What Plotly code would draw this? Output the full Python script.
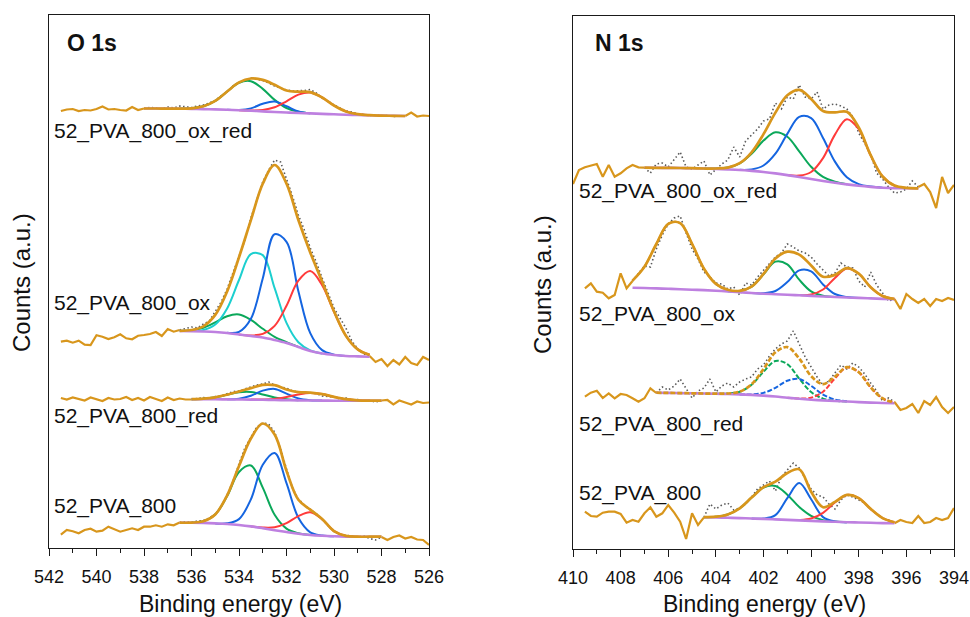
import numpy as np
import plotly.graph_objects as go

FONT = "Liberation Sans, Arial, Helvetica, sans-serif"

# ---------------- energy grids (0.25 eV measurement step) ----------------
O_E = np.round(np.arange(541.5, 525.99, -0.25), 2)   # O 1s: 541.5 -> 526.0
N_E = np.round(np.arange(410.0, 393.99, -0.25), 2)   # N 1s: 410.0 -> 394.0

# ---------------- O 1s raw spectra (stacked, a.u.) ----------------
O_raw_oxred = [437, 438.5, 439, 437, 438, 437.5, 439, 441.5, 438.5, 439, 438, 437.5, 441, 438, 439.5,
               440.5, 440, 439, 441, 440, 442, 441, 440.5, 442, 443, 445, 447.5, 452, 456, 462, 465,
               468, 470, 469, 467.5, 465, 462, 460, 458, 457, 457, 457.5, 458.5, 455, 450, 447, 443,
               440, 437, 436, 434, 433.5, 432.5, 433, 432, 432.5, 431.5, 432,
               432, 435.5, 431.5, 432.5, 432]
O_raw_ox = [206.3, 207.3, 205.3, 207.3, 203.3, 203, 212.7, 211.3, 209, 210.7, 213.7, 209.7, 208.7, 212.3,
            213, 214, 216, 212, 219, 216.3,
            218, 219.5, 221, 220, 224, 227, 236, 246, 259, 275, 292, 308, 330, 348, 366, 378, 388, 386,
            370, 352, 333, 318, 300, 286, 270, 255, 240, 230, 220, 207, 199, 194, 192,
            186, 189, 182, 188, 183.5, 191, 185, 183, 191, 188]
O_raw_red = [150, 148.5, 150.5, 149, 147.5, 150.5, 148.5, 147, 150, 148.5, 149, 151, 148, 150, 147.5,
             151, 149, 147, 150.5, 148, 149.5, 148.5,
             148.5, 149.5, 150.5, 149, 151.5, 152, 154, 156.5, 157, 159, 161, 163, 164, 166, 163, 161,
             160, 157, 156, 155.5, 155, 154.5, 152, 151.5, 151, 149, 150, 148, 148.5, 146.5, 147.5,
             146, 147.5,
             148, 143.5, 147.5, 145.5, 143.5, 146.5, 145, 145.5]
O_raw_800 = [13.3, 18, 16.7, 14.7, 18, 19.3, 16.3, 17.3, 21.3, 19, 16.3, 18, 19.7, 18, 21.3, 21.3, 22.7,
             21.3, 23.7, 22.7,
             25.5, 26, 25.5, 27, 27.5, 30, 34, 41, 53, 67, 84, 100, 111, 121, 125, 124, 116, 99, 79, 60,
             49, 43, 38.5, 34.5, 28.5, 22.5, 16.5, 13.5, 12.5, 12, 11, 12, 9.5, 8, 11,
             8, 11, 12.5, 9.5, 11, 8.5, 8, 3]

# ---------------- O 1s fits: (start, end) of fit window, background, components ----------------
O_fit_oxred = (538.0, 527.0)
O_bg_oxred = [439.5, 439.5, 439.4, 439.3, 439.1, 438.9, 438.6, 438.2, 437.7, 437.2, 436.6, 436, 435.5,
              435, 434.6, 434.1, 433.7, 433.3, 433, 432.7, 432.4, 432.2, 432]
O_oxred_green = [0, 0, 0, 0.1, 0.6, 2.8, 8.5, 18.3, 27.6, 29.6, 22.5, 12.1, 4.5, 1.3, 0.2, 0, 0, 0, 0, 0, 0, 0, 0]
O_oxred_blue = [0, 0, 0, 0, 0, 0, 0, 0, 0.3, 2.4, 7.6, 10.4, 6.3, 1.6, 0.2, 0, 0, 0, 0, 0, 0, 0, 0]
O_oxred_red = [0, 0, 0, 0, 0, 0, 0, 0, 0, 0.3, 1.4, 4.7, 11.2, 18.4, 20.9, 16.4, 8.8, 3.3, 0.8, 0.1, 0, 0, 0]

O_fit_ox = (536.5, 528.5)
O_bg_ox = [217, 216.8, 216.5, 216, 215, 213.5, 212, 210.5, 208, 205, 201, 197, 194.5, 193, 192, 191.6, 191.3]
O_ox_green = [0.2, 1.0, 3.7, 9.6, 16.8, 20.0, 16.1, 8.7, 3.2, 0.8, 0.1, 0, 0, 0, 0, 0, 0]
O_ox_cyan = [0, 0.2, 1.5, 7.5, 24.6, 54.5, 81.9, 82.4, 51.9, 20.1, 4.8, 0.7, 0.1, 0, 0, 0, 0]
O_ox_blue = [0, 0, 0, 0, 0.2, 2.6, 17.2, 59.0, 105.8, 101.2, 55.8, 17.9, 3.4, 0.4, 0, 0, 0]
O_ox_red = [0, 0, 0, 0, 0, 0.1, 0.6, 3.6, 14.1, 37.2, 66.3, 80.0, 68.4, 43.3, 20.3, 7.0, 1.8]

O_fit_red = (536.0, 528.0)
O_bg_red = [148.7, 148.7, 148.7, 148.6, 148.5, 148.4, 148.2, 148, 147.8, 147.6, 147.5, 147.4, 147.3,
            147.3, 147.3, 147.3, 147.3]
O_red_green = [0.1, 0.6, 2.0, 4.6, 7.2, 7.6, 5.4, 2.6, 0.9, 0.2, 0, 0, 0, 0, 0, 0, 0]
O_red_blue = [0, 0, 0, 0.1, 0.8, 3.9, 9.2, 11.1, 6.6, 2.0, 0.3, 0, 0, 0, 0, 0, 0]
O_red_red = [0, 0, 0, 0, 0, 0, 0.3, 1.1, 3.2, 6.0, 7.6, 6.5, 3.8, 1.5, 0.4, 0.1, 0]

O_fit_800 = (536.5, 528.0)
O_bg_800 = [25.3, 25.2, 25, 24.6, 24, 23, 21.6, 19.8, 17.8, 16, 14.3, 13, 12.2, 11.7, 11.4, 11.3, 11.3, 11.3]
O_800_green = [0, 0.2, 1.7, 8.9, 27.9, 53.0, 60.9, 40.6, 15.4, 3.4, 0.4, 0, 0, 0, 0, 0, 0, 0]
O_800_blue = [0, 0, 0, 0, 0.7, 5.9, 27.0, 63.4, 77.2, 48.8, 15.9, 2.7, 0.3, 0, 0, 0, 0, 0]
O_800_red = [0, 0, 0, 0, 0, 0, 0, 0.7, 3.0, 8.9, 17.6, 22.7, 16.5, 5.2, 0.7, 0, 0, 0]

# ---------------- N 1s raw spectra ----------------
N_raw_oxred = [365, 379, 381.7, 383, 385, 372.3, 384, 372.3, 375.7, 380.7, 384, 381.7,
               381.3, 376, 385, 386, 382, 390, 397, 382, 380, 384, 388, 374, 380, 385, 389, 402, 392,
               408, 414, 420, 428, 430, 446, 440, 452, 450, 464, 452, 450, 457, 440, 444, 445, 443,
               440, 432, 416, 405, 395, 376, 370, 362, 356, 357, 360, 368, 362,
               365, 357, 341, 372, 356, 364]
N_raw_ox = [None, None, 260.7, 265.7, 257.3, 256.3, 250.7, 254, 275.7, 260.7,
            268, 276, 283, 282, 300, 314, 325, 331, 333, 316, 300, 290, 277, 272, 266, 265, 260, 262,
            254, 266, 264, 272, 279, 286, 292, 296, 305, 302, 298, 296, 292, 285, 279, 273, 276, 286,
            282, 281, 268, 262, 277, 264, 256, 248, 250,
            240, 255, 250, 246, 250, 243, 250, 248, 251, 249]
N_raw_red = [None, None, 152.3, 156.3, 158.3, 151, 155.7, 150.7, 155, 154, 150.7, 147.3, 150.7, 160.7,
             156, 162, 159, 163, 170, 160, 151, 158, 161, 170, 157, 163, 166, 162, 167, 170, 172, 180,
             184, 193, 200, 205, 208, 218, 205, 192, 182, 172, 164, 168, 176, 184, 180, 186, 182, 175,
             166, 158, 148, 151, 147,
             139, 141, 145, 136, 148, 144, 152, 142, 136, 142]
N_raw_800 = [None, None, 37.3, 33, 32.3, 36.3, 37.3, 37.3, 35, 26.3, 29, 27.3, 35.7, 41.7, 32.3, 35.7,
             44, 36.3, 27.3, 10, 35.7, 24,
             31.7, 45, 40, 44, 46, 39, 41, 45, 52, 60, 64, 68, 58, 72, 79, 86, 81, 70, 60, 54, 52, 45,
             40, 49, 54, 52, 49, 46, 40, 35, 31, 29, 25.7,
             29, 27, 26, 33, 26, 27, 31, 29, 31, 41]

# ---------------- N 1s fits ----------------
N_fit_oxred = (407.0, 395.5)
N_bg_oxred = [381.3, 381.2, 381.1, 381, 380.8, 380.5, 380.1, 379.6, 379, 378.1, 377, 375.6, 373.9, 372,
              370, 368, 366.2, 364.6, 363.2, 362.1, 361.3, 360.8, 360.7, 360.7]
N_oxred_green = [0, 0, 0, 0, 0, 0, 0.4, 1.8, 6.6, 17.1, 31.4, 41.1, 38.4, 25.6, 12.2, 4.1, 1.0, 0.2, 0, 0, 0, 0, 0, 0]
N_oxred_blue = [0, 0, 0, 0, 0, 0, 0, 0, 0.2, 1.5, 6.5, 19.7, 41.2, 60.1, 60.9, 43.0, 21.2, 7.2, 1.7, 0.3, 0, 0, 0, 0]
N_oxred_red = [0, 0, 0, 0, 0, 0, 0, 0, 0, 0, 0, 0, 0.2, 1.4, 7.0, 22.9, 48.2, 65.2, 56.6, 31.5, 11.2, 2.6, 0.4, 0]

N_fit_ox = (407.5, 396.5)
N_bg_ox = [261.3, 261, 260.6, 260.2, 259.8, 259.3, 258.9, 258.3, 257.6, 256.8, 256, 255.3, 254.8, 254.3,
           253.7, 253.1, 252.5, 252, 251.5, 251.1, 250.6, 250.1, 249.7]
N_ox_high = [7.1, 21.3, 44.4, 64.9, 66.1, 45.8, 21.4, 6.8, 1.5, 0.2, 0, 0, 0, 0, 0, 0, 0, 0, 0, 0, 0, 0, 0]
N_ox_green = [0, 0, 0, 0, 0, 0, 0, 0, 0.1, 1.2, 6.4, 19.4, 32.6, 30.4, 15.6, 4.5, 0.7, 0, 0, 0, 0, 0, 0]
N_ox_blue = [0, 0, 0, 0, 0, 0, 0, 0, 0, 0, 0, 0.4, 3.2, 12.6, 24.9, 24.6, 12.1, 3.0, 0.4, 0, 0, 0, 0]
N_ox_red = [0, 0, 0, 0, 0, 0, 0, 0, 0, 0, 0, 0, 0, 0, 0.2, 1.4, 7.0, 19.1, 28.9, 24.2, 11.2, 2.9, 0.4]

N_fit_red = (406.5, 396.5)
N_bg_red = [156.3, 156.1, 155.9, 155.7, 155.5, 155.3, 155, 154.6, 154.1, 153.4, 152.5, 151.3, 150.2,
            149.3, 148.6, 148, 147.5, 146.9, 146.4, 146, 145.7]
N_red_green = [0, 0, 0, 0, 0, 0, 0.5, 2.7, 10.1, 23.8, 35.5, 33.6, 20.2, 7.7, 1.8, 0.3, 0, 0, 0, 0, 0]
N_red_blue = [0, 0, 0, 0, 0, 0, 0, 0, 0.5, 2.7, 8.7, 17.0, 19.8, 13.9, 5.8, 1.5, 0.2, 0, 0, 0, 0]
N_red_red = [0, 0, 0, 0, 0, 0, 0, 0, 0, 0, 0, 0, 0.3, 2.0, 8.7, 22.6, 34.1, 29.9, 15.3, 4.6, 0.8]

N_fit_800 = (404.5, 396.5)
N_bg_800 = [31.7, 31.5, 31.2, 30.9, 30.5, 30.1, 29.6, 29.1, 28.6, 28.1, 27.6, 27.2, 26.8, 26.5, 26.2, 25.9, 25.7]
N_800_green = [0.1, 0.8, 3.3, 9.8, 20.9, 31.4, 33.4, 25.2, 13.4, 5.1, 1.3, 0.3, 0, 0, 0, 0, 0]
N_800_blue = [0, 0, 0, 0, 0, 0.3, 4.3, 21.7, 37.3, 21.7, 4.3, 0.3, 0, 0, 0, 0, 0]
N_800_red = [0, 0, 0, 0, 0, 0, 0, 0, 0.4, 2.4, 8.6, 19.3, 27.3, 24.4, 13.9, 5.0, 1.1]

# ---------------- labels ----------------
sample_labels = ["52_PVA_800_ox_red", "52_PVA_800_ox", "52_PVA_800_red", "52_PVA_800"]
panel_titles = ["O 1s", "N 1s"]
x_title = "Binding energy (eV)"
y_title = "Counts (a.u.)"

# ---------------- styles ----------------
ORANGE = "#D8961C"
GREEN = "#0BA85A"
BLUE = "#1565E0"
RED = "#FF3B3B"
CYAN = "#1CCFCF"
PURPLE = "#BE80E0"
DOTS = "#5A5A5A"

fig = go.Figure()


def add_spectrum(xa, ya, E, raw, fit, bg, comps, dash="solid"):
    E = np.asarray(E)
    raw = np.array([np.nan if v is None else v for v in raw], dtype=float)
    fe = np.round(np.arange(fit[0], fit[1] - 0.01, -0.5), 2)
    bg = np.asarray(bg, dtype=float)
    left = E >= fit[0] - 1e-6
    right = E <= fit[1] + 1e-6
    mid = (~left | np.isclose(E, fit[0])) & (~right | np.isclose(E, fit[1]))
    common = dict(xaxis=xa, yaxis=ya, mode="lines", hoverinfo="skip", showlegend=False)
    # raw data inside the fit window (dotted)
    fig.add_trace(go.Scatter(x=E[mid], y=raw[mid], line=dict(color=DOTS, width=1.6, dash="1.5px,2.5px"), **common))
    # raw data outside the fit window
    for m in (left, right):
        fig.add_trace(go.Scatter(x=E[m], y=raw[m], line=dict(color=ORANGE, width=2.2), **common))
    env = bg.copy()
    for vals, col in comps:
        vals = np.asarray(vals, dtype=float)
        env = env + vals
        nz = np.where(vals > 0.25)[0]
        lo, hi = max(nz[0] - 1, 0), min(nz[-1] + 1, len(vals) - 1)
        sl = slice(lo, hi + 1)
        fig.add_trace(go.Scatter(x=fe[sl], y=(bg + vals)[sl],
                                 line=dict(color=col, width=2, shape="spline", dash=dash), **common))
    # background (drawn over component feet)
    fig.add_trace(go.Scatter(x=fe, y=bg, line=dict(color=PURPLE, width=2.6, shape="spline"), **common))
    fig.add_trace(go.Scatter(x=fe, y=env, line=dict(color=ORANGE, width=2.7, shape="spline", dash=dash), **common))


# O 1s panel
add_spectrum("x", "y", O_E, O_raw_oxred, O_fit_oxred, O_bg_oxred,
             [(O_oxred_green, GREEN), (O_oxred_blue, BLUE), (O_oxred_red, RED)])
add_spectrum("x", "y", O_E, O_raw_ox, O_fit_ox, O_bg_ox,
             [(O_ox_green, GREEN), (O_ox_cyan, CYAN), (O_ox_blue, BLUE), (O_ox_red, RED)])
add_spectrum("x", "y", O_E, O_raw_red, O_fit_red, O_bg_red,
             [(O_red_green, GREEN), (O_red_blue, BLUE), (O_red_red, RED)])
add_spectrum("x", "y", O_E, O_raw_800, O_fit_800, O_bg_800,
             [(O_800_green, GREEN), (O_800_blue, BLUE), (O_800_red, RED)])

# N 1s panel
add_spectrum("x2", "y2", N_E, N_raw_oxred, N_fit_oxred, N_bg_oxred,
             [(N_oxred_green, GREEN), (N_oxred_blue, BLUE), (N_oxred_red, RED)])
add_spectrum("x2", "y2", N_E, N_raw_ox, N_fit_ox, N_bg_ox,
             [(N_ox_high, ORANGE), (N_ox_green, GREEN), (N_ox_blue, BLUE), (N_ox_red, RED)])
add_spectrum("x2", "y2", N_E, N_raw_red, N_fit_red, N_bg_red,
             [(N_red_green, GREEN), (N_red_blue, BLUE), (N_red_red, RED)], dash="5px,2px")
add_spectrum("x2", "y2", N_E, N_raw_800, N_fit_800, N_bg_800,
             [(N_800_green, GREEN), (N_800_blue, BLUE), (N_800_red, RED)])

W, H = 970, 617
axis_common = dict(showgrid=False, zeroline=False, showline=True, mirror=True, automargin=False,
                   linecolor="#1a1a1a", linewidth=1.4)
xcommon = dict(axis_common, ticks="outside", ticklen=7, tickwidth=1.4, tickcolor="#1a1a1a", dtick=2,
               tickfont=dict(family=FONT, size=18, color="#111"), ticklabelstandoff=5,
               minor=dict(ticks="outside", ticklen=4, tickwidth=1.2, tickcolor="#1a1a1a", dtick=1))
ycommon = dict(axis_common, showticklabels=False, ticks="")

fig.update_layout(
    width=W, height=H, autosize=False,
    margin=dict(l=0, r=0, t=0, b=0, pad=0, autoexpand=False),
    paper_bgcolor="white", plot_bgcolor="white", showlegend=False,
    xaxis=dict(xcommon, domain=[49 / W, 429 / W], range=[542, 526], tick0=526, anchor="y"),
    yaxis=dict(ycommon, domain=[1 - 548 / H, 1 - 15 / H], range=[0, 533], anchor="x"),
    xaxis2=dict(xcommon, domain=[573 / W, 954 / W], range=[410, 394], tick0=394, anchor="y2"),
    yaxis2=dict(ycommon, domain=[1 - 549 / H, 1 - 15.5 / H], range=[0, 533.5], anchor="x2"),
)

ann = []


def txt(text, px, py, size, xanchor="left", bold=False, angle=0):
    ann.append(dict(text=f"<b>{text}</b>" if bold else text, x=px / W, y=1 - py / H,
                    xref="paper", yref="paper", showarrow=False, xanchor=xanchor, yanchor="middle",
                    textangle=angle, font=dict(family=FONT, size=size, color="#111")))


txt(panel_titles[0], 65, 43, 23, bold=True)
txt(panel_titles[1], 593, 43, 23, bold=True)
for lab, py in zip(sample_labels, [131, 303, 416, 506]):
    txt(lab, 52, py, 21)
for lab, py in zip(sample_labels, [191, 314, 424, 493]):
    txt(lab, 577, py, 21)
txt(x_title, 240, 604, 23, xanchor="center")
txt(x_title, 764, 604, 23, xanchor="center")
txt(y_title, 21, 283, 24, xanchor="center", angle=-90)
txt(y_title, 542, 285, 24, xanchor="center", angle=-90)
fig.update_layout(annotations=ann)

fig.write_html(
    "out.html",
    config={"responsive": False, "displayModeBar": False},
    post_script="document.body.style.margin='0';document.body.style.padding='0';"
                "document.body.style.overflow='hidden';",
)
